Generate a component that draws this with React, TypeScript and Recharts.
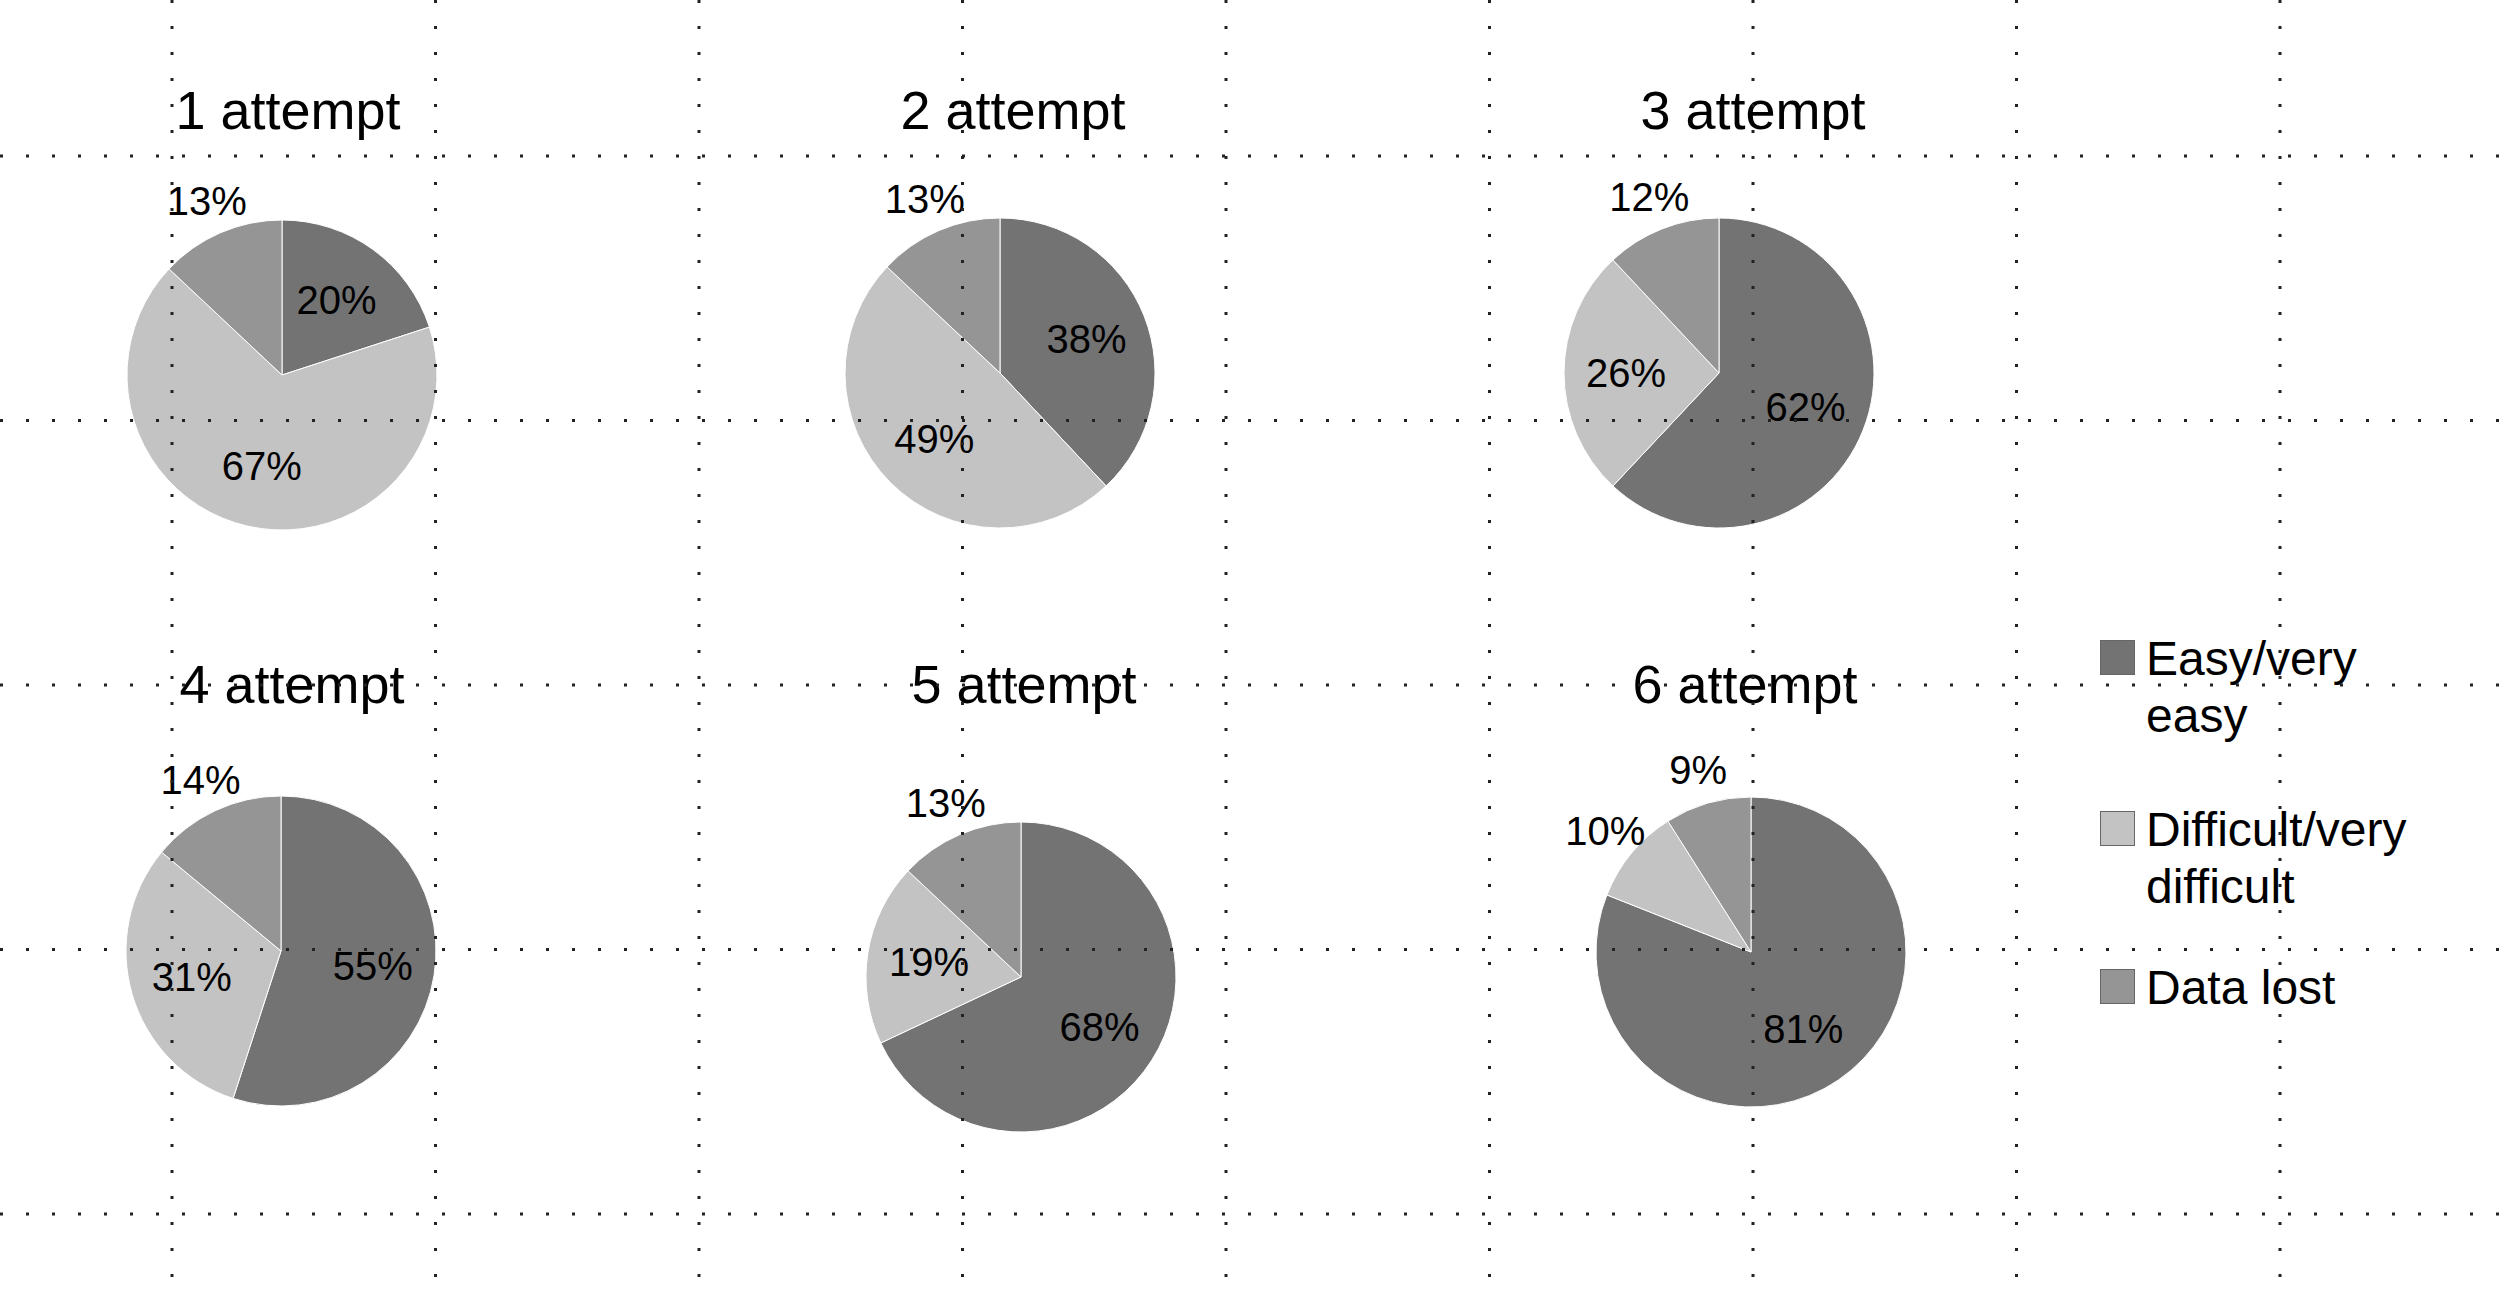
import { PieChart, Pie, Cell, Legend, LineChart, XAxis, YAxis, CartesianGrid } from "recharts";

const FONT = "'Liberation Sans', Arial, Helvetica, sans-serif";

const categories = ["Easy/very easy", "Difficult/very difficult", "Data lost"];
const attempts = ["1 attempt", "2 attempt", "3 attempt", "4 attempt", "5 attempt", "6 attempt"];
const easyValues = [20, 38, 62, 55, 68, 81];
const difficultValues = [67, 49, 26, 31, 19, 10];
const lostValues = [13, 13, 12, 14, 13, 9];

const colors = ["#737373", "#c3c3c3", "#959595"];

// where each small pie sits on the page
const slots = [
  { cx: 282, cy: 375, titleX: 288, titleY: 129 },
  { cx: 1000, cy: 373, titleX: 1013, titleY: 129 },
  { cx: 1719, cy: 373, titleX: 1753, titleY: 129 },
  { cx: 281, cy: 951, titleX: 292, titleY: 703 },
  { cx: 1021, cy: 977, titleX: 1024, titleY: 703 },
  { cx: 1751, cy: 952, titleX: 1745, titleY: 703 },
];

const W = 2500;
const H = 1300;
const gridX = Array.from({ length: 9 }, (_, i) => 172 + i * 263.5);
const gridY = Array.from({ length: 5 }, (_, i) => 156 + i * 264.5);

const RADIAN = Math.PI / 180;

function renderLabel(props: any) {
  const { cx, cy, midAngle, outerRadius, percent, value } = props;
  const r = percent < 0.15 ? outerRadius * 1.22 : outerRadius * 0.6;
  const x = cx + r * Math.cos(-midAngle * RADIAN);
  const y = cy + r * Math.sin(-midAngle * RADIAN);
  return (
    <text x={x} y={y} textAnchor="middle" dominantBaseline="central" fontSize={40} fontFamily={FONT} fill="#000">
      {value}%
    </text>
  );
}

function LegendContent() {
  return (
    <div style={{ fontFamily: FONT, fontSize: 48, lineHeight: "57px", color: "#000" }}>
      {categories.map((c, i) => (
        <div key={c} style={{ display: "flex", alignItems: "flex-start", marginBottom: i === 0 ? 57 : 44 }}>
          <span
            style={{
              width: 35,
              height: 35,
              background: colors[i],
              border: "1px solid #666",
              boxSizing: "border-box",
              marginTop: 10,
              marginRight: 11,
              flex: "none",
            }}
          />
          <span style={{ width: 300 }}>{c}</span>
        </div>
      ))}
    </div>
  );
}

export default function App() {
  const pies = attempts.map((name, i) => ({
    name,
    data: [
      { name: categories[0], value: easyValues[i] },
      { name: categories[1], value: difficultValues[i] },
      { name: categories[2], value: lostValues[i] },
    ],
  }));

  return (
    <div style={{ position: "absolute", left: 0, top: 0, width: W, height: H, background: "#fff" }}>
      <div style={{ position: "absolute", left: 0, top: 0 }}>
        <PieChart width={W} height={H} margin={{ top: 0, right: 0, bottom: 0, left: 0 }}>
          {pies.map((p, i) => (
            <Pie
              key={p.name}
              data={p.data}
              dataKey="value"
              nameKey="name"
              cx={slots[i].cx}
              cy={slots[i].cy}
              outerRadius={155}
              startAngle={90}
              endAngle={-270}
              stroke="#ffffff"
              strokeWidth={1}
              label={renderLabel}
              labelLine={false}
              isAnimationActive={false}
            >
              {p.data.map((d, j) => (
                <Cell key={d.name} fill={colors[j]} />
              ))}
            </Pie>
          ))}
          {pies.map((p, i) => (
            <text
              key={"t" + p.name}
              x={slots[i].titleX}
              y={slots[i].titleY}
              textAnchor="middle"
              fontSize={54}
              fontFamily={FONT}
              fill="#000"
            >
              {p.name}
            </text>
          ))}
          <Legend
            layout="vertical"
            align="right"
            verticalAlign="top"
            content={<LegendContent />}
            wrapperStyle={{ left: 2100, top: 630, width: 400 }}
          />
        </PieChart>
      </div>
      <div style={{ position: "absolute", left: 0, top: 0, pointerEvents: "none" }}>
        <LineChart width={W} height={H} margin={{ top: 0, right: 0, bottom: 0, left: 0 }}>
          <XAxis type="number" domain={[0, W]} hide />
          <YAxis type="number" domain={[0, H]} hide />
          <CartesianGrid
            horizontalPoints={gridY}
            verticalPoints={gridX}
            stroke="#222"
            strokeWidth={3}
            strokeDasharray="3 23"
          />
        </LineChart>
      </div>
    </div>
  );
}
